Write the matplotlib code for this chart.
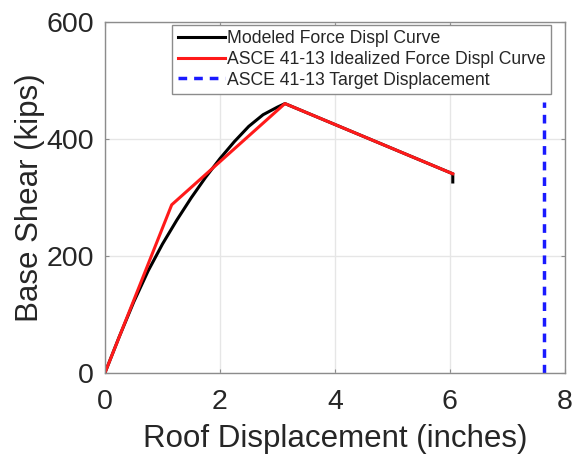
import numpy as np
import matplotlib
matplotlib.use("Agg")
import matplotlib.pyplot as plt

plt.rcParams["font.family"] = ["Liberation Sans", "DejaVu Sans"]

# modeled pushover curve
model_x = [0, 0.25, 0.5, 0.75, 1.0, 1.25, 1.5, 1.75, 2.0, 2.25, 2.5, 2.75, 3.0, 3.13, 6.05, 6.05]
model_y = [0, 62, 121, 174, 220, 261, 299, 334, 366, 395, 421, 441, 454, 460, 340, 326]

# ASCE 41-13 idealized curve
ideal_x = [0, 1.16, 3.13, 6.05]
ideal_y = [0, 287, 460, 340]

target_disp = 7.64
target_top = 463

fig = plt.figure(figsize=(5.77, 4.61), dpi=100)
ax = fig.add_axes([0.182, 0.1915, 0.797, 0.7615])

ax.plot(model_x, model_y, color="black", lw=2.2, label="Modeled Force Displ Curve")
ax.plot(ideal_x, ideal_y, color="#ff1a1a", lw=2.2, label="ASCE 41-13 Idealized Force Displ Curve")
ax.plot([target_disp, target_disp], [0, target_top], color="#1a1aff", lw=2.5,
        dashes=(2.5, 2), label="ASCE 41-13 Target Displacement")

ax.set_xlim(0, 8)
ax.set_ylim(0, 600)
ax.set_xticks([0, 2, 4, 6, 8])
ax.set_yticks([0, 200, 400, 600])
ax.grid(True, color="#e6e6e6", lw=1)
ax.set_axisbelow(True)

for s in ax.spines.values():
    s.set_color("#8c8c8c")
    s.set_linewidth(1)
ax.tick_params(direction="in", length=3, color="#8c8c8c", top=True, right=True,
               labelsize=20.5, labelcolor="#262626")
ax.tick_params(axis="x", pad=12)
ax.tick_params(axis="y", pad=8)

ax.set_xlabel("Roof Displacement (inches)", fontsize=22.5, color="#262626", labelpad=6)
ax.set_ylabel("Base Shear (kips)", fontsize=22.5, color="#262626", labelpad=1)

leg = ax.legend(loc="upper right", bbox_to_anchor=(0.97, 0.99), fontsize=12.7,
                fancybox=False, framealpha=1, edgecolor="#8c8c8c",
                handlelength=2.7, handletextpad=0.1, borderpad=0.3,
                labelspacing=0.2, borderaxespad=0)
leg.get_frame().set_linewidth(1)
for t in leg.get_texts():
    t.set_color("#262626")

fig.savefig("out.png", dpi=100)
